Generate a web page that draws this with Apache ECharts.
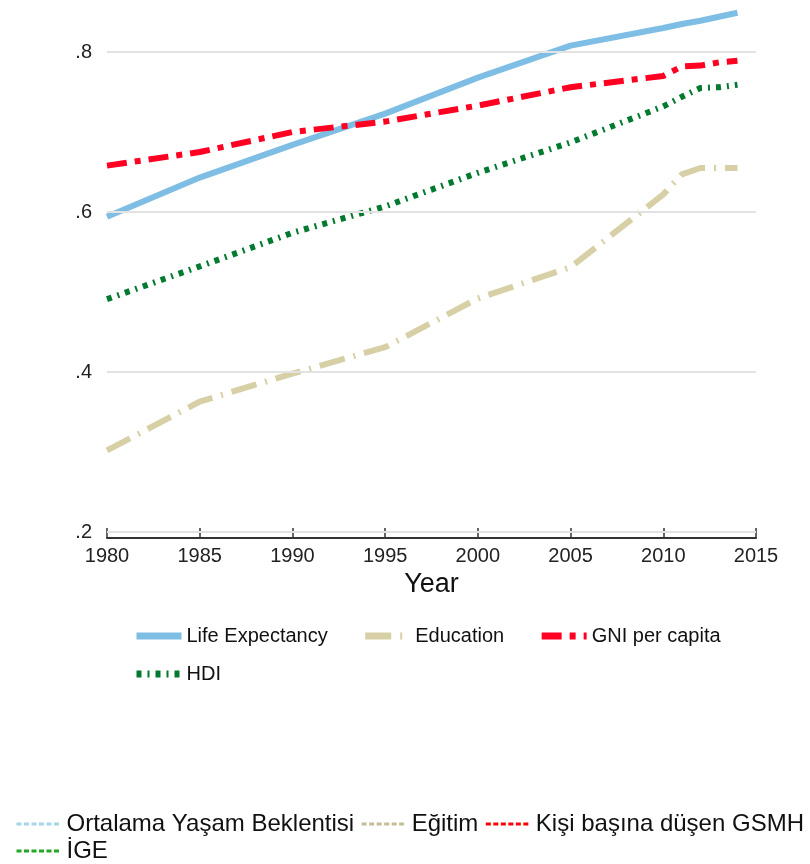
<!DOCTYPE html>
<html>
<head>
<meta charset="utf-8">
<script src="https://cdn.jsdelivr.net/npm/echarts@6/dist/echarts.min.js"></script>
<style>
  html, body { margin: 0; padding: 0; background: #fff; }
  #chart { width: 810px; height: 864px; }
</style>
</head>
<body>
<div id="chart"></div>
<script>
// years and index values
var years = [1980, 1985, 1990, 1995, 2000, 2005, 2010, 2011, 2012, 2013, 2014];
var lifeExp = [0.594, 0.643, 0.684, 0.723, 0.768, 0.808, 0.830, 0.835, 0.839, 0.844, 0.849];
var education = [0.302, 0.363, 0.398, 0.431, 0.492, 0.531, 0.622, 0.647, 0.655, 0.655, 0.655];
var gniPc = [0.658, 0.675, 0.700, 0.713, 0.733, 0.756, 0.770, 0.782, 0.783, 0.787, 0.789];
var hdi = [0.491, 0.532, 0.574, 0.607, 0.649, 0.687, 0.732, 0.744, 0.755, 0.756, 0.759];
var yTicks = [0.2, 0.4, 0.6, 0.8];
var namesEn = ['Life Expectancy', 'Education', 'GNI per capita', 'HDI'];
var namesTr = ['Ortalama Yaşam Beklentisi', 'Eğitim', 'Kişi başına düşen GSMH', 'İGE'];

var colors = ['#7fbee4', '#d7d0a6', '#ff0022', '#007a2f'];
var colorsTr = ['#a6d6e8', '#c8bb98', '#ff0000', '#22a822'];
var dashes = ['solid', [26, 9, 2, 9], [20, 8, 6, 8], [5, 6, 2, 6]];
var font = "'Liberation Sans', Arial, sans-serif";

function pairs(vals) {
	return years.map(function (y, i) { return [y, vals[i]]; });
}

var myChart = echarts.init(document.getElementById('chart'));

var series = [
	{
		// horizontal grid lines at the tick values
		type: 'line',
		data: [],
		silent: true,
		z: 1,
		markLine: {
			silent: true,
			symbol: ['none', 'none'],
			label: { show: false },
			animation: false,
			lineStyle: { color: '#e2e2e2', type: 'solid', width: 2 },
			data: yTicks.map(function (v) { return { yAxis: v }; })
		}
	}
];
[lifeExp, education, gniPc, hdi].forEach(function (vals, i) {
	series.push({
		name: namesEn[i],
		type: 'line',
		data: pairs(vals),
		symbol: 'none',
		z: 3,
		itemStyle: { color: colors[i] },
		lineStyle: { color: colors[i], width: 6, type: dashes[i], cap: 'butt' }
	});
});
namesTr.forEach(function (n, i) {
	series.push({
		name: n,
		type: 'line',
		data: [],
		symbol: 'none',
		itemStyle: { color: colorsTr[i] },
		lineStyle: { color: colorsTr[i], width: 3, type: [5, 2.5] }
	});
});

function legendItems(list, isTr) {
	return list.map(function (n) {
		var i = (isTr ? namesTr : namesEn).indexOf(n);
		return {
			name: n,
			itemStyle: { color: 'rgba(0,0,0,0)', borderWidth: 0 },
			lineStyle: isTr
				? { color: colorsTr[i], width: 3, type: [5, 2.5] }
				: { color: colors[i], width: 7, type: dashes[i] }
		};
	});
}

var legendText = { fontFamily: font, fontSize: 20, color: '#111' };
var legendTextTr = { fontFamily: font, fontSize: 24, color: '#111' };

var option = {
	backgroundColor: '#fff',
	animation: false,
	grid: { left: 107, right: 54, top: 4, bottom: 332, containLabel: false },
	xAxis: {
		type: 'value',
		min: 1980,
		max: 2015,
		interval: 5,
		offset: 6,
		name: 'Year',
		nameLocation: 'middle',
		nameGap: 19,
		nameTextStyle: { fontFamily: font, fontSize: 27, color: '#111' },
		axisLine: { show: true, lineStyle: { color: '#333', width: 2 } },
		axisTick: { show: true, inside: true, length: 10, lineStyle: { color: '#333', width: 1.5 } },
		axisLabel: {
			fontFamily: font, fontSize: 20, color: '#222', margin: 8,
			formatter: function (v) { return String(v); }
		},
		splitLine: { show: false }
	},
	yAxis: {
		type: 'value',
		min: 0.2,
		max: 0.86,
		interval: 0.2,
		axisLine: { show: false },
		axisTick: { show: false },
		splitLine: { show: false },
		axisLabel: {
			fontFamily: font,
			fontSize: 20,
			color: '#222',
			margin: 15,
			formatter: function (v) {
				var k = Math.round(v * 10);
				if (Math.abs(v * 10 - k) > 1e-6 || k % 2) return '';
				return '.' + k;
			}
		}
	},
	legend: [
		{
			left: 133, top: 626, padding: 0, orient: 'horizontal',
			itemWidth: 45, itemHeight: 12, itemGap: 34,
			textStyle: legendText,
			data: legendItems(namesEn.slice(0, 3), false)
		},
		{
			left: 133, top: 664, padding: 0, orient: 'horizontal',
			itemWidth: 45, itemHeight: 12, itemGap: 34,
			textStyle: legendText,
			data: legendItems(namesEn.slice(3), false)
		},
		{
			left: 15, top: 812, width: 792, padding: 0, orient: 'horizontal',
			itemWidth: 45, itemHeight: 10, itemGap: 6,
			textStyle: legendTextTr,
			data: legendItems(namesTr.slice(0, 3), true)
		},
		{
			left: 15, top: 839, padding: 0, orient: 'horizontal',
			itemWidth: 45, itemHeight: 10, itemGap: 6,
			textStyle: legendTextTr,
			data: legendItems(namesTr.slice(3), true)
		}
	],
	series: series
};
myChart.setOption(option);
</script>
</body>
</html>
